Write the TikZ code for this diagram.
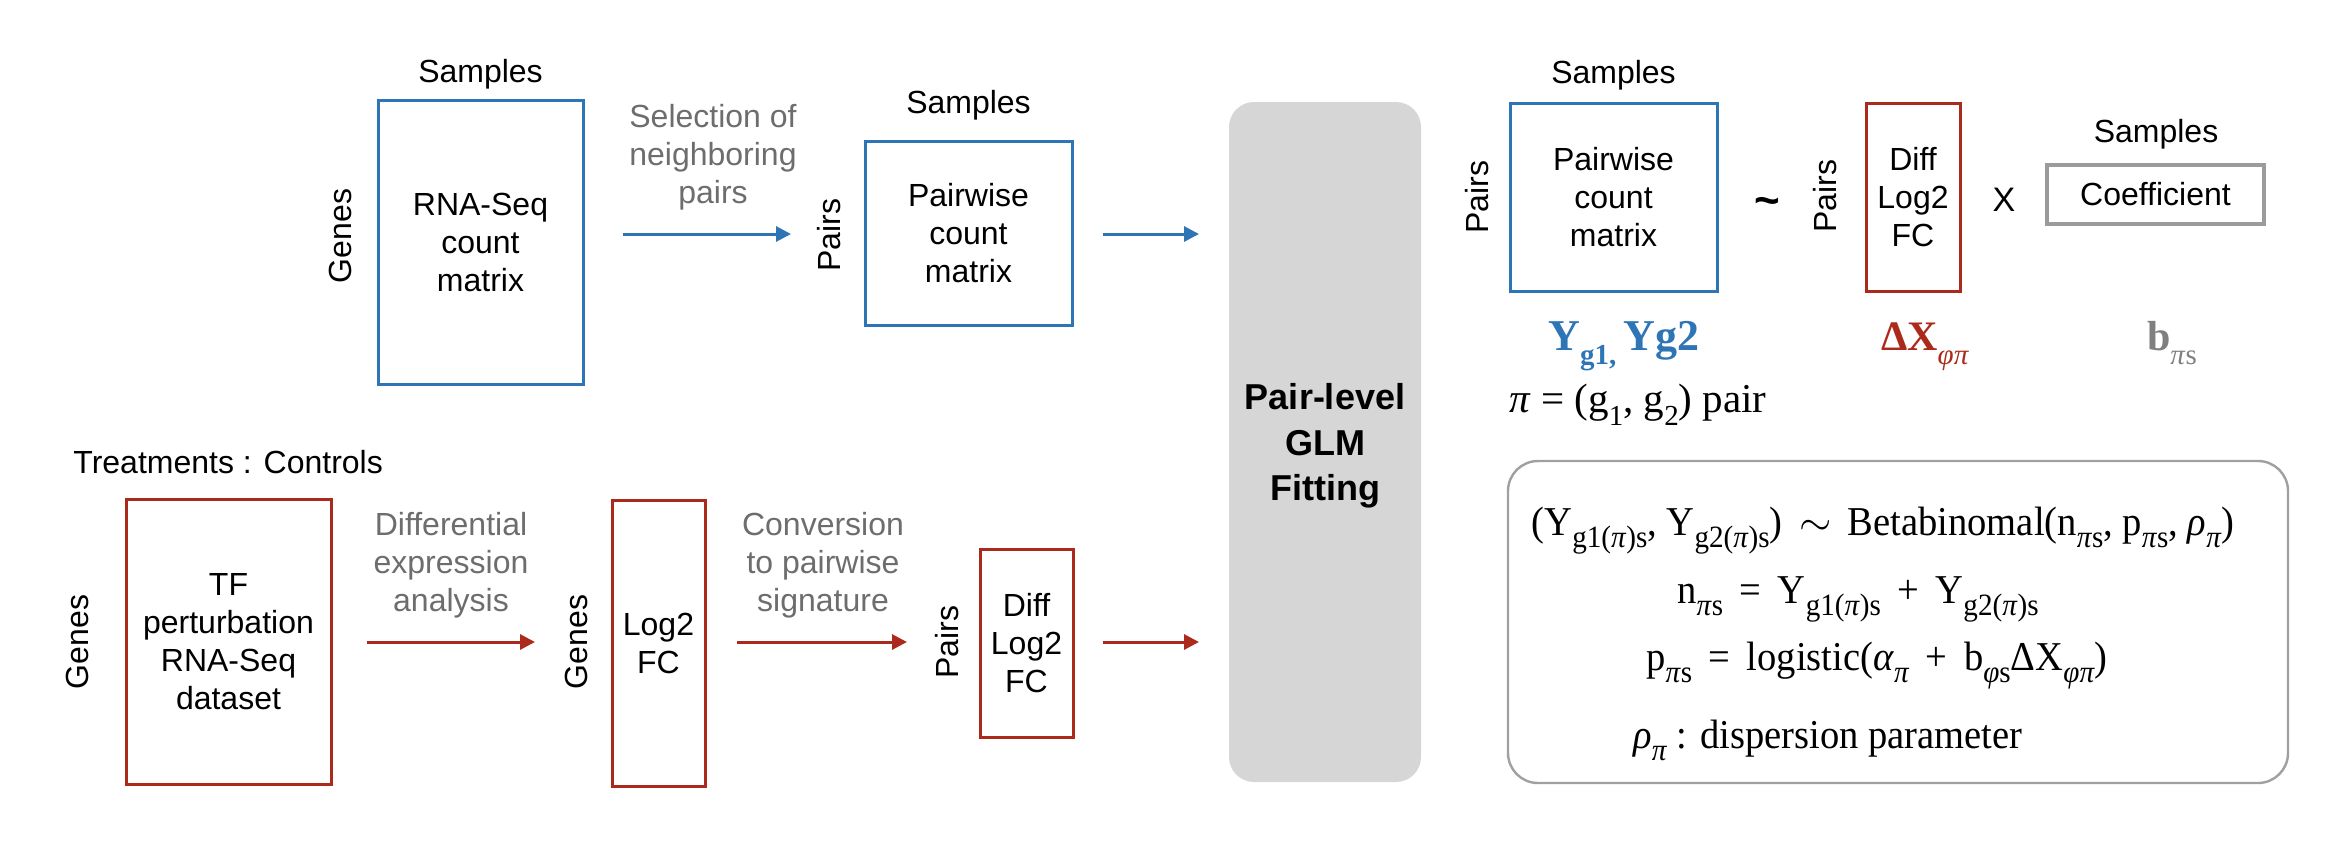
\documentclass[tikz,border=0pt]{standalone}
\usepackage{fontspec}
\setmainfont{Liberation Sans}
\newfontfamily\tms{Liberation Serif}
\newfontfamily\tmsn[FakeStretch=0.94]{Liberation Serif}
\usetikzlibrary{arrows.meta}
\definecolor{cblue}{RGB}{46,117,182}
\definecolor{cred}{RGB}{172,42,28}
\definecolor{ctxtgray}{RGB}{109,109,109}
\definecolor{cfill}{RGB}{214,214,214}
\definecolor{cbox}{RGB}{155,155,155}
\definecolor{cframe}{RGB}{160,160,160}
\definecolor{cbgray}{RGB}{127,127,127}
\newcommand{\sbs}[1]{\raisebox{-0.32em}{\fontsize{14.5}{14.5}\selectfont #1}}
\newcommand{\sbf}[1]{\raisebox{-0.3em}{\fontsize{15.5}{15.5}\selectfont #1}}
\tikzset{
  lbl/.style={inner sep=0pt, font=\fontsize{16}{19}\selectfont, align=center},
  vlbl/.style={lbl, rotate=90},
  glbl/.style={lbl, text=ctxtgray},
  bluebox/.style={draw=cblue, line width=1.5pt, inner sep=0pt, font=\fontsize{16}{19}\selectfont, align=center},
  redbox/.style={draw=cred, line width=1.5pt, inner sep=0pt, font=\fontsize{16}{19}\selectfont, align=center},
  barrow/.style={draw=cblue, line width=1.5pt, -{Triangle[length=7.5pt,width=7.5pt]}},
  rarrow/.style={draw=cred, line width=1.5pt, -{Triangle[length=7.5pt,width=7.5pt]}},
  frm/.style={inner sep=0pt, anchor=base, font=\tms\fontsize{22}{26}\selectfont},
  frmb/.style={inner sep=0pt, anchor=base, font=\tmsn\fontsize{20.5}{24}\selectfont},
}
\begin{document}
\begin{tikzpicture}[x=0.5pt, y=-0.5pt]
\useasboundingbox (0,0) rectangle (2350,852);

% ---------- top row ----------
\node[bluebox, minimum width=102.5pt, minimum height=142pt] (rna) at (480.5,242) {RNA-Seq\\count\\matrix};
\node[lbl, anchor=base] (s1) at (480.5,82) {Samples};
\node[vlbl] (g1) at (340,236) {Genes};
\coordinate (a1s) at (623,234); \coordinate (a1e) at (791,234);
\draw[barrow] (a1s) -- (a1e);
\node[glbl] (sel) at (713,157) {Selection of\\neighboring\\pairs};

\node[bluebox, minimum width=103.5pt, minimum height=92pt] (pw) at (968.5,233) {Pairwise\\count\\matrix};
\node[lbl, anchor=base] (s2) at (968.5,113) {Samples};
\node[vlbl] (p1) at (829,235) {Pairs};
\coordinate (a2s) at (1103,234); \coordinate (a2e) at (1199,234);
\draw[barrow] (a2s) -- (a2e);

% ---------- GLM ----------
\node[fill=cfill, rounded corners=12.5pt, minimum width=96pt, minimum height=340pt, inner sep=0pt] (glm) at (1325,442) {};
\node[inner sep=0pt, align=center, font=\bfseries\fontsize{18}{22.8}\selectfont] (glmt) at (1325,446) {Pair-level\\GLM\\Fitting};

% ---------- bottom row ----------
\node[lbl, anchor=west] (treat) at (73,462) {Treatments : Controls};
\node[redbox, minimum width=102.5pt, minimum height=142.5pt] (tf) at (228.5,641.5) {TF\\perturbation\\RNA-Seq\\dataset};
\node[vlbl] (g2) at (77,642) {Genes};
\coordinate (a3s) at (367,642); \coordinate (a3e) at (535,642);
\draw[rarrow] (a3s) -- (a3e);
\node[glbl] (dea) at (451,565) {Differential\\expression\\analysis};

\node[redbox, minimum width=46.5pt, minimum height=143pt] (lfc) at (658.5,643) {Log2\\FC};
\node[vlbl] (g3) at (576,642) {Genes};
\coordinate (a4s) at (737,642); \coordinate (a4e) at (907,642);
\draw[rarrow] (a4s) -- (a4e);
\node[glbl] (conv) at (823,565) {Conversion\\to pairwise\\signature};

\node[redbox, minimum width=46.5pt, minimum height=94pt] (dfc) at (1026.5,643) {Diff\\Log2\\FC};
\node[vlbl] (p2) at (947,642) {Pairs};
\coordinate (a5s) at (1103,642); \coordinate (a5e) at (1199,642);
\draw[rarrow] (a5s) -- (a5e);

% ---------- right side ----------
\node[bluebox, minimum width=103.5pt, minimum height=94pt] (pw2) at (1613.5,197) {Pairwise\\count\\matrix};
\node[lbl, anchor=base] (s3) at (1613.5,83) {Samples};
\node[vlbl] (p3) at (1477,197) {Pairs};
\node[inner sep=0pt, font=\bfseries\fontsize{22}{22}\selectfont] (tl) at (1767,206) {\textasciitilde};
\node[vlbl] (p4) at (1825,196) {Pairs};
\node[redbox, minimum width=47pt, minimum height=94pt] (dfc2) at (1913,197) {Diff\\Log2\\FC};
\node[inner sep=0pt, font=\fontsize{17}{17}\selectfont] (xx) at (2004,200) {X};
\node[draw=cbox, line width=1.7pt, minimum width=108.5pt, minimum height=29.5pt, inner sep=0pt, font=\fontsize{16}{19}\selectfont] (coef) at (2155.5,194.5) {Coefficient};
\node[lbl, anchor=base] (s4) at (2156,142) {Samples};

\node[frm, font=\tms\bfseries\fontsize{22}{26}\selectfont, text=cblue] (yg) at (1624,350) {Y\sbs{g1,}\,Yg2};
\node[frm, text=cred] (dx) at (1925,350) {{\bfseries\fontsize{21}{24}\selectfont ΔX}\sbs{\textit{φπ}}};
\node[frm, text=cbgray] (bp) at (2172,350) {{\bfseries\fontsize{21}{24}\selectfont b}\sbs{\textit{π}s}};
\node[frm, font=\tms\fontsize{20.5}{24}\selectfont] (pidef) at (1638,412) {\textit{π} = (g\sbs{1}, g\sbs{2}) pair};

% ---------- formula box ----------
\node[draw=cframe, line width=1.2pt, rounded corners=15pt, minimum width=390pt, minimum height=161pt, inner sep=0pt] (fbox) at (1898,622) {};
\node[frmb] (f1) at (1883,535) {(Y\sbf{g1(\textit{π})s}, Y\sbf{g2(\textit{π})s}) \,$\sim$\, Betabinomal(n\sbf{\textit{π}s}, p\sbf{\textit{π}s}, \textit{ρ}\sbf{\textit{π}})};
\node[frmb] (f2) at (1858,603) {n\sbf{\textit{π}s} \,=\, Y\sbf{g1(\textit{π})s} \,+\, Y\sbf{g2(\textit{π})s}};
\node[frmb] (f3) at (1877,670) {p\sbf{\textit{π}s} \,=\, logistic(\textit{α}\sbf{\textit{π}} \,+\, b\sbf{\textit{φ}s}ΔX\sbf{\textit{φπ}})};
\node[frmb] (f4) at (1828,748) {\textit{ρ}\sbf{\textit{π}} : dispersion parameter};
\end{tikzpicture}
\end{document}
